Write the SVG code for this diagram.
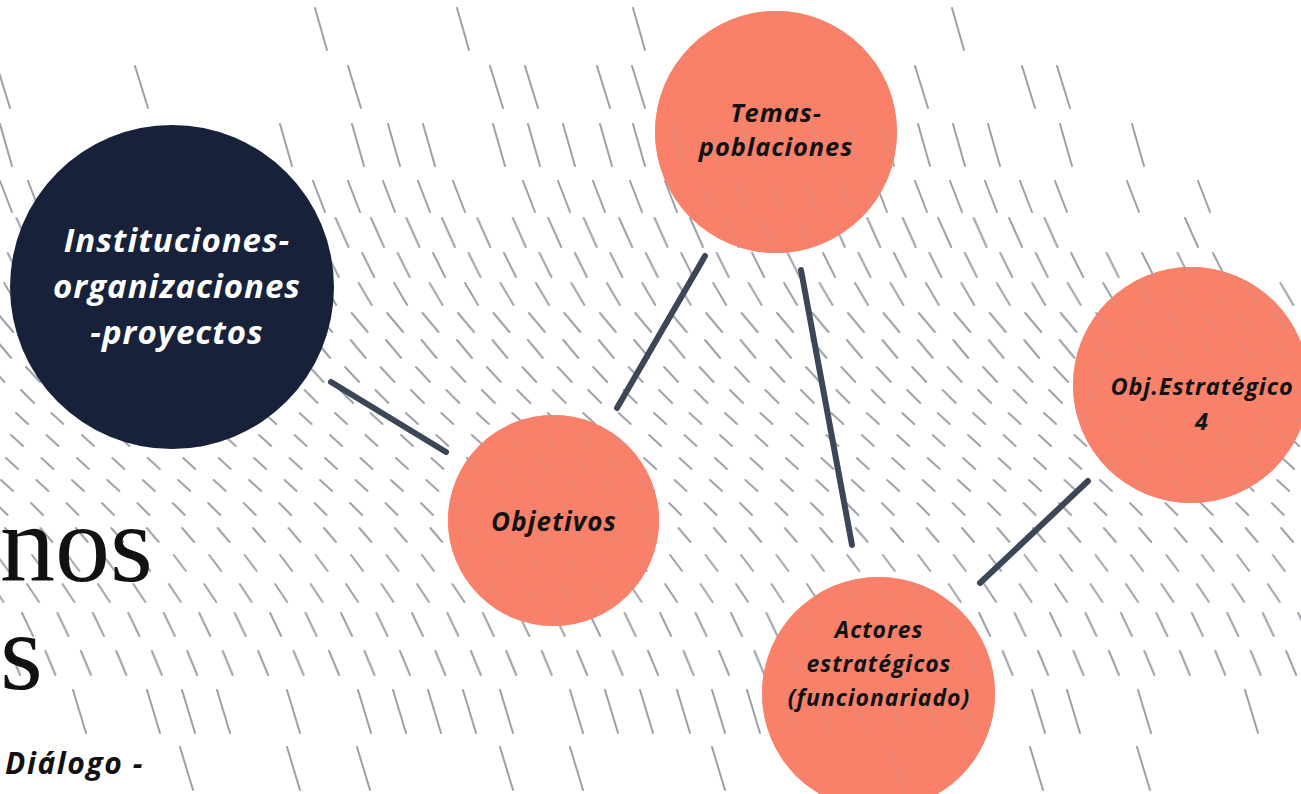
<svg xmlns="http://www.w3.org/2000/svg" width="1301" height="794" viewBox="0 0 1301 794">
<style>
.h{stroke:#9ca1a9;stroke-width:2;stroke-linecap:round;fill:none}
.base{fill:#f9816a}
.salmon{fill:#f9816a;fill-opacity:0.8}
.lbl{font-family:"Open Sans","Noto Sans","DejaVu Sans",sans-serif;font-weight:700;font-style:italic;text-anchor:middle;fill:#111111}
.con{stroke:#3b4657;stroke-width:6;stroke-linecap:round;fill:none}
.big{font-family:"Liberation Serif","Times New Roman",serif;font-size:110px;fill:#111111}
</style>
<defs>
<pattern id="pE" patternUnits="userSpaceOnUse" x="14.5" y="216" width="35.45" height="300"><path class="h" d="M2 2l13 29"/></pattern>
<pattern id="pF" patternUnits="userSpaceOnUse" x="5.7" y="251" width="35.45" height="300"><path class="h" d="M2 2l12 24"/></pattern>
<pattern id="pG" patternUnits="userSpaceOnUse" x="2.2" y="281" width="35.45" height="300"><path class="h" d="M2 2l13 22"/></pattern>
<pattern id="pH" patternUnits="userSpaceOnUse" x="30.6" y="311" width="35.45" height="300"><path class="h" d="M2 2l16 19"/></pattern>
<pattern id="pI" patternUnits="userSpaceOnUse" x="29.6" y="338" width="35.45" height="300"><path class="h" d="M2 2l15 18"/></pattern>
<pattern id="pJ" patternUnits="userSpaceOnUse" x="24" y="365" width="35.45" height="300"><path class="h" d="M2 2l14 15"/></pattern>
<pattern id="pK" patternUnits="userSpaceOnUse" x="19" y="388" width="35.45" height="300"><path class="h" d="M2 2l13 13"/></pattern>
<pattern id="pL" patternUnits="userSpaceOnUse" x="14" y="411" width="35.45" height="300"><path class="h" d="M2 2l12 11"/></pattern>
<pattern id="pM" patternUnits="userSpaceOnUse" x="9" y="433" width="35.45" height="300"><path class="h" d="M2 2l12 11"/></pattern>
<pattern id="pN" patternUnits="userSpaceOnUse" x="4" y="456" width="35.45" height="300"><path class="h" d="M2 2l12 11"/></pattern>
<pattern id="pO" patternUnits="userSpaceOnUse" x="-1" y="478" width="35.45" height="300"><path class="h" d="M2 2l12 11"/></pattern>
<pattern id="pP" patternUnits="userSpaceOnUse" x="29" y="501" width="35.45" height="300"><path class="h" d="M2 2l12 12"/></pattern>
<pattern id="pQ" patternUnits="userSpaceOnUse" x="2.9" y="526" width="35.45" height="300"><path class="h" d="M2 2l12 14"/></pattern>
<pattern id="pR" patternUnits="userSpaceOnUse" x="30" y="553" width="35.45" height="300"><path class="h" d="M2 2l12 16"/></pattern>
<pattern id="pS" patternUnits="userSpaceOnUse" x="25" y="582" width="35.45" height="300"><path class="h" d="M2 2l12 18"/></pattern>
<pattern id="pT" patternUnits="userSpaceOnUse" x="20" y="611" width="35.45" height="300"><path class="h" d="M2 2l11 23"/></pattern>
<pattern id="pU" patternUnits="userSpaceOnUse" x="8" y="649" width="35.45" height="300"><path class="h" d="M2 2l10 24"/></pattern>
</defs>
<rect x="0" y="0" width="1301" height="794" fill="#ffffff"/>
<g id="background">
<circle class="base" cx="776" cy="132" r="121"/>
<circle class="base" cx="553.5" cy="520.5" r="105.5"/>
<circle class="base" cx="1191" cy="385" r="118"/>
<circle class="base" cx="878.5" cy="693.5" r="116.5"/>
<g id="hatch">
<path class="h" d="M315 8l12 42M457 8l12 42M633 8l12 42M952 8l12 42"/>
<path class="h" d="M-3 66l13 42M135 66l13 42M348 66l13 42M490 66l13 42M525 66l13 42M597 66l13 42M632 66l13 42M915 66l13 42M1022 66l13 42M1057 66l13 42"/>
<path class="h" d="M0 124l12 42M280 124l12 42M352 124l12 42M388 124l12 42M423 124l12 42M493 124l12 42M528 124l12 42M563 124l12 42M600 124l12 42M633 124l12 42M672 124l12 42M707 124l12 42M742 124l12 42M777 124l12 42M812 124l12 42M847 124l12 42M882 124l12 42M918 124l12 42M953 124l12 42M988 124l12 42M1060 124l12 42M1132 124l12 42"/>
<path class="h" d="M0 181l12 31M28 181l12 31M313 181l12 31M348 181l12 31M383 181l12 31M418 181l12 31M453 181l12 31M523 181l12 31M558 181l12 31M593 181l12 31M630 181l12 31M665 181l12 31M700 181l12 31M735 181l12 31M770 181l12 31M805 181l12 31M840 181l12 31M875 181l12 31M915 181l12 31M950 181l12 31M985 181l12 31M1020 181l12 31M1055 181l12 31M1127 181l12 31M1198 181l12 31"/>
<rect x="0" y="216" width="1066" height="33" fill="url(#pE)"/>
<path class="h" d="M1185 218l13 29"/>
<rect x="0" y="251" width="1232" height="28" fill="url(#pF)"/>
<rect x="0" y="281" width="1301" height="26" fill="url(#pG)"/>
<rect x="0" y="311" width="1301" height="23" fill="url(#pH)"/>
<rect x="0" y="338" width="1301" height="22" fill="url(#pI)"/>
<rect x="0" y="365" width="1301" height="19" fill="url(#pJ)"/>
<rect x="0" y="388" width="1301" height="17" fill="url(#pK)"/>
<rect x="0" y="411" width="1301" height="15" fill="url(#pL)"/>
<rect x="0" y="433" width="1301" height="15" fill="url(#pM)"/>
<rect x="0" y="456" width="1301" height="15" fill="url(#pN)"/>
<rect x="0" y="478" width="1301" height="15" fill="url(#pO)"/>
<rect x="0" y="501" width="1301" height="16" fill="url(#pP)"/>
<rect x="0" y="526" width="1301" height="18" fill="url(#pQ)"/>
<rect x="0" y="553" width="1301" height="20" fill="url(#pR)"/>
<rect x="0" y="582" width="1301" height="22" fill="url(#pS)"/>
<rect x="0" y="611" width="1301" height="27" fill="url(#pT)"/>
<rect x="0" y="649" width="1301" height="28" fill="url(#pU)"/>
<path class="h" d="M73 690l13 43M147 690l13 43M182 690l13 43M217 690l13 43M287 690l13 43M358 690l13 43M393 690l13 43M428 690l13 43M463 690l13 43M500 690l13 43M570 690l13 43M605 690l13 43M640 690l13 43M677 690l13 43M712 690l13 43M747 690l13 43M783 690l13 43M818 690l13 43M853 690l13 43M889 690l13 43M924 690l13 43M960 690l13 43M1032 690l13 43M1067 690l13 43M1138 690l13 43M1245 690l13 43"/>
<path class="h" d="M180 747l13 43M287 747l13 43M357 747l13 43M500 747l13 43M570 747l13 43M712 747l13 43M890 747l13 43M1030 747l13 43M1137 747l13 43"/>
</g>
</g>
<g id="title-fragment">
<text class="big" x="0" y="581">nos</text>
<text class="big" x="0" y="689">s</text>
<text x="5" y="774" font-family="Open Sans, Noto Sans, sans-serif" font-weight="700" font-style="italic" font-size="30" letter-spacing="1.6" fill="#111111">Diálogo -</text>
</g>
<g id="connectors">
<line class="con" x1="331" y1="382" x2="446" y2="452"/>
<line class="con" x1="617" y1="408" x2="705" y2="256"/>
<line class="con" x1="801" y1="270" x2="852" y2="545"/>
<line class="con" x1="980" y1="583" x2="1088" y2="481"/>
</g>
<g id="node-instituciones">
<circle cx="172" cy="287" r="162" fill="#17223a"/>
<text class="lbl" x="177" y="252" font-size="33" letter-spacing="1" style="fill:#ffffff">Instituciones-</text>
<text class="lbl" x="177" y="298" font-size="33" letter-spacing="1" style="fill:#ffffff">organizaciones</text>
<text class="lbl" x="177" y="344" font-size="33" letter-spacing="1" style="fill:#ffffff">-proyectos</text>
</g>
<g id="node-temas">
<circle class="salmon" cx="776" cy="132" r="121"/>
<text class="lbl" x="776" y="122" font-size="25.5" letter-spacing="0.9">Temas-</text>
<text class="lbl" x="776" y="156" font-size="25.5" letter-spacing="0.9">poblaciones</text>
</g>
<g id="node-objetivos">
<circle class="salmon" cx="553.5" cy="520.5" r="105.5"/>
<text class="lbl" x="554" y="531" font-size="26" letter-spacing="1.1">Objetivos</text>
</g>
<g id="node-objestrategico">
<circle class="salmon" cx="1191" cy="385" r="118"/>
<text class="lbl" x="1202" y="395" font-size="23.5" letter-spacing="0.9">Obj.Estratégico</text>
<text class="lbl" x="1202" y="430" font-size="23.5" letter-spacing="0.9">4</text>
</g>
<g id="node-actores">
<circle class="salmon" cx="878.5" cy="693.5" r="116.5"/>
<text class="lbl" x="879" y="638" font-size="23" letter-spacing="0.95">Actores</text>
<text class="lbl" x="879" y="672" font-size="23" letter-spacing="0.95">estratégicos</text>
<text class="lbl" x="879" y="706" font-size="23" letter-spacing="0.95">(funcionariado)</text>
</g>
</svg>
